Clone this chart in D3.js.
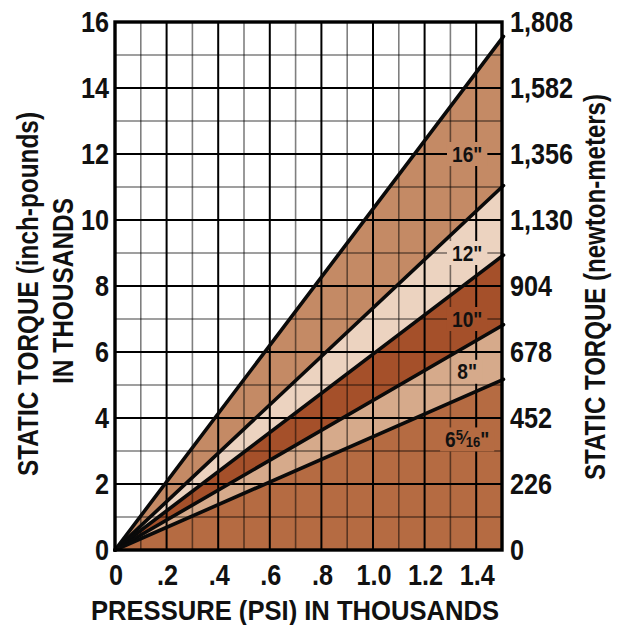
<!DOCTYPE html>
<html>
<head>
<meta charset="utf-8">
<script src="https://cdn.jsdelivr.net/npm/d3@7"></script>
<style>
  body { margin: 0; background: #fff; }
  svg text { font-family: "Liberation Sans", Arial, Helvetica, sans-serif; font-weight: bold; fill: #111; }
</style>
</head>
<body>
<div id="chart"></div>
<script>
// pressure in thousands of psi, torque in thousands of inch-pounds
const pressureTicks = [0, 0.2, 0.4, 0.6, 0.8, 1.0, 1.2, 1.4];
const pressureLabels = ["0", ".2", ".4", ".6", ".8", "1.0", "1.2", "1.4"];
const torqueTicks = [0, 2, 4, 6, 8, 10, 12, 14, 16];
const newtonLabels = ["0", "226", "452", "678", "904", "1,130", "1,356", "1,582", "1,808"];

const sizes = ["16", "12", "10", "8", "6 5/16"];
const torqueAtMax = [15.5, 11.0, 8.9, 6.8, 5.15]; // value at 1.5 ksi
const labelTorque = [12, 9, 7, 5.4, 3.35];
const bandColors = ["#c48a65", "#ecd3c0", "#a5502a", "#d6aa8b", "#b56b42"];

const maxPressure = 1.5;

const W = 621, H = 625;
const margin = { top: 22, right: 119, bottom: 75, left: 115 };
const width = W - margin.left - margin.right;
const height = H - margin.top - margin.bottom;
const narrow = 0.87; // horizontal squeeze to mimic a condensed face

const svg = d3.select("#chart")
  .append("svg")
  .attr("width", W)
  .attr("height", H);

const g = svg.append("g")
  .attr("transform", `translate(${margin.left}, ${margin.top})`);

const x = d3.scaleLinear().domain([0, maxPressure]).range([0, width]);
const y = d3.scaleLinear().domain([0, 16]).range([height, 0]);

function squeezed(parent, px, py, str, size, anchor) {
  return parent.append("text")
    .attr("transform", `translate(${px}, ${py}) scale(${narrow}, 1)`)
    .attr("text-anchor", anchor)
    .style("font-size", size + "px")
    .text(str);
}

// bands between consecutive lines
const bounds = torqueAtMax.concat([0]);
bandColors.forEach((c, i) => {
  const pts = [[0, 0], [maxPressure, bounds[i]], [maxPressure, bounds[i + 1]]];
  g.append("path")
    .attr("d", d3.line().x(d => x(d[0])).y(d => y(d[1]))(pts) + "Z")
    .attr("fill", c);
});

// grid
const xGrid = d3.range(1, 15).map(d => d / 10);
const yGrid = d3.range(1, 16);
g.selectAll(".vgrid")
  .data(xGrid)
  .enter()
  .append("line")
  .attr("x1", d => x(d)).attr("x2", d => x(d))
  .attr("y1", 0).attr("y2", height)
  .attr("stroke", "#000")
  .attr("stroke-opacity", (d, i) => i % 2 === 1 ? 1 : 0.5)
  .attr("stroke-width", (d, i) => i % 2 === 1 ? 2 : 1.6);
g.selectAll(".hgrid")
  .data(yGrid)
  .enter()
  .append("line")
  .attr("x1", 0).attr("x2", width)
  .attr("y1", d => y(d)).attr("y2", d => y(d))
  .attr("stroke", "#000")
  .attr("stroke-opacity", d => d % 2 === 0 ? 1 : 0.5)
  .attr("stroke-width", d => d % 2 === 0 ? 2 : 1.6);

// size labels with background patches
const labelP = 1.365;
sizes.forEach((s, i) => {
  const lg = g.append("g");
  const t = lg.append("text")
    .attr("transform", `translate(${x(labelP)}, ${y(labelTorque[i]) + 7.5}) scale(${narrow}, 1)`)
    .attr("text-anchor", "middle")
    .style("font-size", "22px");
  if (s.includes("/")) {
    t.append("tspan").text("6");
    t.append("tspan").text("5").style("font-size", "15px").attr("dy", "-7");
    t.append("tspan").text("\u2044").style("font-size", "18px").attr("dy", "4");
    t.append("tspan").text("16").style("font-size", "15px").attr("dy", "3");
    t.append("tspan").text("\"").attr("dy", "0");
  } else {
    t.text(s + "\"");
  }
  const bb = t.node().getBBox();
  const cx = x(labelP), cy = y(labelTorque[i]);
  const bw = bb.width * narrow + 10, bh = 24;
  lg.insert("rect", "text")
    .attr("x", cx - bw / 2)
    .attr("y", cy - bh / 2)
    .attr("width", bw)
    .attr("height", bh)
    .attr("fill", bandColors[i]);
});

// torque lines
torqueAtMax.forEach(v => {
  g.append("line")
    .attr("x1", x(0)).attr("y1", y(0))
    .attr("x2", x(maxPressure) + 1.5).attr("y2", y(v * (maxPressure + 0.006) / maxPressure))
    .attr("stroke", "#0a0a0a")
    .attr("stroke-width", 3.6)
    .attr("stroke-linecap", "round");
});

// frame
g.append("rect")
  .attr("x", 0).attr("y", 0)
  .attr("width", width).attr("height", height)
  .attr("fill", "none")
  .attr("stroke", "#000")
  .attr("stroke-width", 3.4);

// left axis labels
torqueTicks.forEach(d => squeezed(g, -6, y(d) + 10, String(d), 29, "end"));

// right axis labels
torqueTicks.forEach((d, i) => squeezed(g, width + 8, y(d) + 10, newtonLabels[i], 29, "start"));

// bottom axis labels
pressureTicks.forEach((d, i) => squeezed(g, x(d) + 1, height + 35, pressureLabels[i], 29, "middle"));

// titles
svg.append("text")
  .attr("x", 295)
  .attr("y", 620)
  .attr("text-anchor", "middle")
  .attr("textLength", 408)
  .attr("lengthAdjust", "spacingAndGlyphs")
  .style("font-size", "28px")
  .text("PRESSURE (PSI) IN THOUSANDS");

svg.append("text")
  .attr("transform", "translate(38, 294) rotate(-90)")
  .attr("text-anchor", "middle")
  .attr("textLength", 364)
  .attr("lengthAdjust", "spacingAndGlyphs")
  .style("font-size", "30px")
  .text("STATIC TORQUE (inch-pounds)");

svg.append("text")
  .attr("transform", "translate(73, 291) rotate(-90)")
  .attr("text-anchor", "middle")
  .attr("textLength", 186)
  .attr("lengthAdjust", "spacingAndGlyphs")
  .style("font-size", "30px")
  .text("IN THOUSANDS");

svg.append("text")
  .attr("transform", "translate(605, 287) rotate(-90)")
  .attr("text-anchor", "middle")
  .attr("textLength", 386)
  .attr("lengthAdjust", "spacingAndGlyphs")
  .style("font-size", "30px")
  .text("STATIC TORQUE (newton-meters)");
</script>
</body>
</html>
